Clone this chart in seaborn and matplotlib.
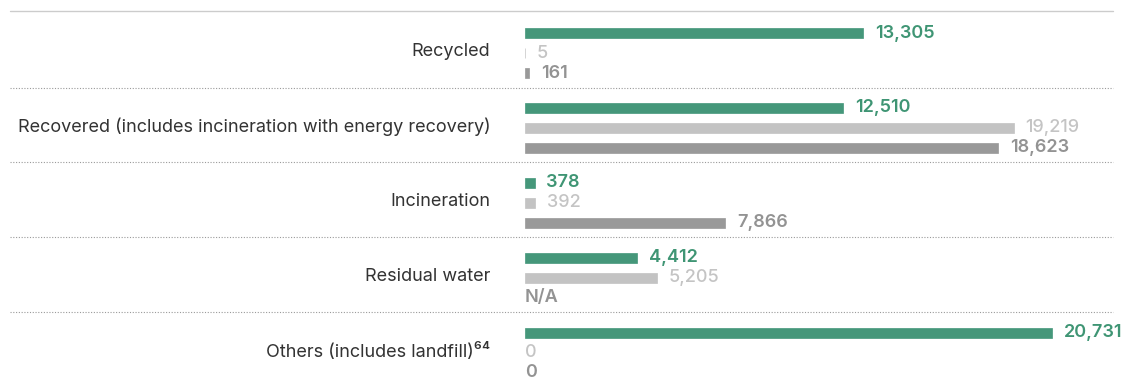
import numpy as np
import pandas as pd
import matplotlib
matplotlib.use("Agg")
import matplotlib.pyplot as plt
import matplotlib.transforms as mtransforms
import seaborn as sns

# Waste disposal volumes by method, three reporting periods
categories = [
    "Recycled",
    "Recovered (includes incineration with energy recovery)",
    "Incineration",
    "Residual water",
    "Others (includes landfill)⁶⁴",
]
periods = ["2023", "2022", "2021"]
values_2023 = [13305, 12510, 378, 4412, 20731]
values_2022 = [5, 19219, 392, 5205, 0]
values_2021 = [161, 18623, 7866, np.nan, 0]

bar_colors = ["#45977a", "#c3c3c3", "#999999"]
text_colors = ["#3f9574", "#c4c4c4", "#939393"]
text_weights = ["semibold", "medium", "semibold"]

series = [values_2023, values_2022, values_2021]
df = pd.DataFrame({
    "category": np.repeat(categories, len(periods)),
    "period": periods * len(categories),
    "value": [s[c] for c in range(len(categories)) for s in series],
})

sns.set_style("white")
plt.rcParams["font.family"] = ["Inter", "DejaVu Sans"]

fig = plt.figure(figsize=(11.23, 3.80), dpi=100)
W, H = 1123, 380
ax = fig.add_axes([525 / W, 0, 588 / W, 1 - 15.5 / H])

sns.barplot(
    data=df, y="category", x="value", hue="period", hue_order=periods,
    order=categories, orient="h", palette=bar_colors, saturation=1,
    width=0.8, gap=0.5, errorbar=None, legend=False, ax=ax,
)

for p in ax.patches:
    w = p.get_width()
    if np.isfinite(w) and w > 0:
        p.set_edgecolor(p.get_facecolor())
        p.set_linewidth(0.5)
    else:
        p.set_linewidth(0)

ax.set_xlim(0, 588 / 0.02542)
ax.set_ylim(4.36, -0.5)

# value labels
slot = 0.8 / len(periods)
for i, vals in enumerate(series):
    for c, v in enumerate(vals):
        y = c + (i - (len(periods) - 1) / 2) * slot
        if isinstance(v, float) and np.isnan(v):
            txt, x, off = "N/A", 0, 0
        else:
            txt, x = f"{v:,.0f}", v
            off = 8.5 if v > 0 else 0
        ax.annotate(txt, xy=(x, y), xytext=(off, 0), textcoords="offset points",
                    ha="left", va="center", fontsize=13,
                    color=text_colors[i], fontweight=text_weights[i],
                    annotation_clip=False)

ax.set_xlabel("")
ax.set_ylabel("")
ax.set_xticks([])
ax.tick_params(axis="y", length=0, pad=25, labelsize=13, labelcolor="#333333")
for lbl in ax.get_yticklabels():
    lbl.set_y(lbl.get_position()[1])
    lbl.set_transform(lbl.get_transform() + mtransforms.ScaledTranslation(0, 2.5 / 72, fig.dpi_scale_trans))
for s in ax.spines.values():
    s.set_visible(False)

# horizontal rules spanning the full width
trans = mtransforms.blended_transform_factory(fig.transFigure, ax.transData)
x0, x1 = 10 / W, 1113 / W
fig.add_artist(plt.Line2D([x0, x1], [1 - 11 / H] * 2, transform=fig.transFigure,
                          color="#cccccc", lw=1.0))
for c in range(len(categories) - 1):
    fig.add_artist(plt.Line2D([x0, x1], [c + 0.46] * 2, transform=trans,
                              color="#9a9a9a", lw=0.8, ls=(0, (1, 1.5))))

fig.savefig("out.png", dpi=100)
